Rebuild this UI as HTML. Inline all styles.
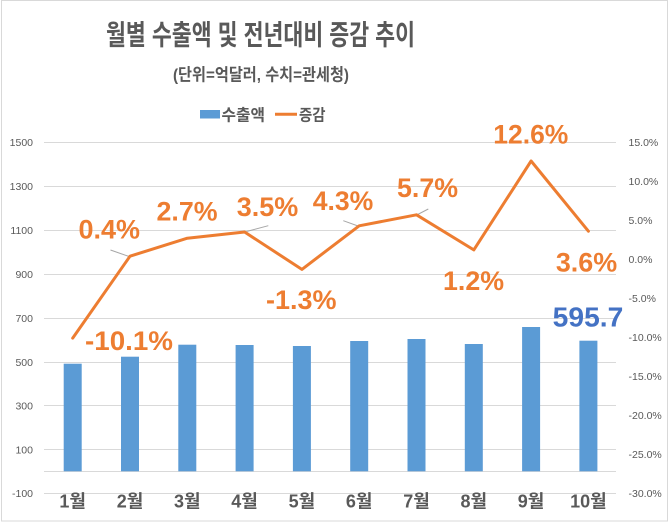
<!DOCTYPE html>
<html><head><meta charset="utf-8"><style>
html,body{margin:0;padding:0;background:#fff;}
svg{display:block;}
text{font-family:"Liberation Sans","Noto Sans CJK KR",sans-serif;}
</style></head><body>
<svg width="670" height="524" viewBox="0 0 670 524" xmlns="http://www.w3.org/2000/svg">
<rect x="0" y="0" width="670" height="524" fill="#fff"/>
<rect x="1.5" y="0.5" width="666" height="520.5" fill="none" stroke="#D9D9D9" stroke-width="1"/>

<!-- Title -->
<text x="106" y="44.5" font-size="28" font-weight="bold" fill="#595959" textLength="309" lengthAdjust="spacingAndGlyphs">월별 수출액 및 전년대비 증감 추이</text>
<text x="173" y="80.5" font-size="17" font-weight="bold" fill="#595959" textLength="176" lengthAdjust="spacingAndGlyphs">(단위=억달러, 수치=관세청)</text>

<!-- Legend -->
<rect x="200" y="110" width="20" height="8.5" fill="#5B9BD5"/>
<text x="221.5" y="120.5" font-size="16" font-weight="bold" fill="#595959" textLength="43.5" lengthAdjust="spacingAndGlyphs">수출액</text>
<line x1="275" y1="114.3" x2="297" y2="114.3" stroke="#ED7D31" stroke-width="3"/>
<text x="299" y="120.5" font-size="16" font-weight="bold" fill="#595959" textLength="26.5" lengthAdjust="spacingAndGlyphs">증감</text>

<!-- Gridlines -->
<g stroke="#D9D9D9" stroke-width="1">
<line x1="44" y1="142.5" x2="616" y2="142.5"/>
<line x1="44" y1="186.5" x2="616" y2="186.5"/>
<line x1="44" y1="230.5" x2="616" y2="230.5"/>
<line x1="44" y1="274.5" x2="616" y2="274.5"/>
<line x1="44" y1="318.5" x2="616" y2="318.5"/>
<line x1="44" y1="362.5" x2="616" y2="362.5"/>
<line x1="44" y1="405.5" x2="616" y2="405.5"/>
<line x1="44" y1="449.5" x2="616" y2="449.5"/>
<line x1="44" y1="493.5" x2="616" y2="493.5"/>
<line x1="44" y1="471.5" x2="616" y2="471.5"/>
</g>

<!-- Left axis labels -->
<g font-size="10.5" fill="#595959" text-anchor="end">
<text x="33" y="146">1500</text>
<text x="33" y="190">1300</text>
<text x="33" y="234">1100</text>
<text x="33" y="278">900</text>
<text x="33" y="322">700</text>
<text x="33" y="366">500</text>
<text x="33" y="409.5">300</text>
<text x="33" y="453.5">100</text>
<text x="33" y="497">-100</text>
</g>

<!-- Right axis labels -->
<g font-size="10.5" fill="#595959">
<text x="628.5" y="146">15.0%</text>
<text x="628.5" y="185">10.0%</text>
<text x="628.5" y="224">5.0%</text>
<text x="628.5" y="263">0.0%</text>
<text x="628.5" y="302">-5.0%</text>
<text x="628.5" y="341">-10.0%</text>
<text x="628.5" y="380">-15.0%</text>
<text x="628.5" y="419">-20.0%</text>
<text x="628.5" y="458">-25.0%</text>
<text x="628.5" y="497">-30.0%</text>
</g>

<!-- Bars -->
<g fill="#5B9BD5">
<rect x="63.7" y="363.7" width="18" height="107.6"/>
<rect x="121" y="356.7" width="18" height="114.6"/>
<rect x="178.3" y="344.7" width="18" height="126.6"/>
<rect x="235.6" y="345" width="18" height="126.3"/>
<rect x="292.9" y="346" width="18" height="125.3"/>
<rect x="350.2" y="341" width="18" height="130.3"/>
<rect x="407.5" y="339" width="18" height="132.3"/>
<rect x="464.8" y="344" width="18" height="127.3"/>
<rect x="522.1" y="327" width="18" height="144.3"/>
<rect x="579.4" y="340.7" width="18" height="130.6"/>
</g>

<!-- Leader lines -->
<g stroke="#A6A6A6" stroke-width="1">
<line x1="110.5" y1="250" x2="129" y2="256.5"/>
<line x1="246.5" y1="231.5" x2="268.3" y2="225.7"/>
<line x1="343.3" y1="220.7" x2="358" y2="226"/>
<line x1="416.7" y1="215" x2="428.3" y2="209"/>
</g>

<!-- Line -->
<polyline fill="none" stroke="#ED7D31" stroke-width="3" stroke-linejoin="round" stroke-linecap="round"
points="72.7,338.1 130,256.2 187.3,238.2 244.6,232 301.9,269.4 359.2,225.8 416.5,214.8 473.8,249.9 531.1,161 588.4,231.2"/>

<!-- Data labels -->
<g font-size="27" font-weight="bold" fill="#ED7D31" text-anchor="middle">
<text x="129" y="350" textLength="88" lengthAdjust="spacingAndGlyphs">-10.1%</text>
<text x="109.2" y="238.5" textLength="61.5" lengthAdjust="spacingAndGlyphs">0.4%</text>
<text x="187" y="220.7" textLength="61" lengthAdjust="spacingAndGlyphs">2.7%</text>
<text x="267.5" y="216" textLength="61.5" lengthAdjust="spacingAndGlyphs">3.5%</text>
<text x="301.3" y="309" textLength="70.5" lengthAdjust="spacingAndGlyphs">-1.3%</text>
<text x="343" y="210" textLength="60.6" lengthAdjust="spacingAndGlyphs">4.3%</text>
<text x="427.5" y="197" textLength="61" lengthAdjust="spacingAndGlyphs">5.7%</text>
<text x="473.5" y="290" textLength="61" lengthAdjust="spacingAndGlyphs">1.2%</text>
<text x="530.8" y="143.3" textLength="75" lengthAdjust="spacingAndGlyphs">12.6%</text>
<text x="586.5" y="271.7" textLength="61.3" lengthAdjust="spacingAndGlyphs">3.6%</text>
</g>
<text x="588" y="326.7" font-size="28" font-weight="bold" fill="#4472C4" text-anchor="middle" textLength="70.6" lengthAdjust="spacingAndGlyphs">595.7</text>

<!-- Category labels -->
<g font-size="18" font-weight="bold" fill="#595959" text-anchor="middle">
<text x="72.7" y="507.5">1월</text>
<text x="130" y="507.5">2월</text>
<text x="187.3" y="507.5">3월</text>
<text x="244.6" y="507.5">4월</text>
<text x="301.9" y="507.5">5월</text>
<text x="359.2" y="507.5">6월</text>
<text x="416.5" y="507.5">7월</text>
<text x="473.8" y="507.5">8월</text>
<text x="531.1" y="507.5">9월</text>
<text x="588.4" y="507.5">10월</text>
</g>
</svg>
</body></html>
